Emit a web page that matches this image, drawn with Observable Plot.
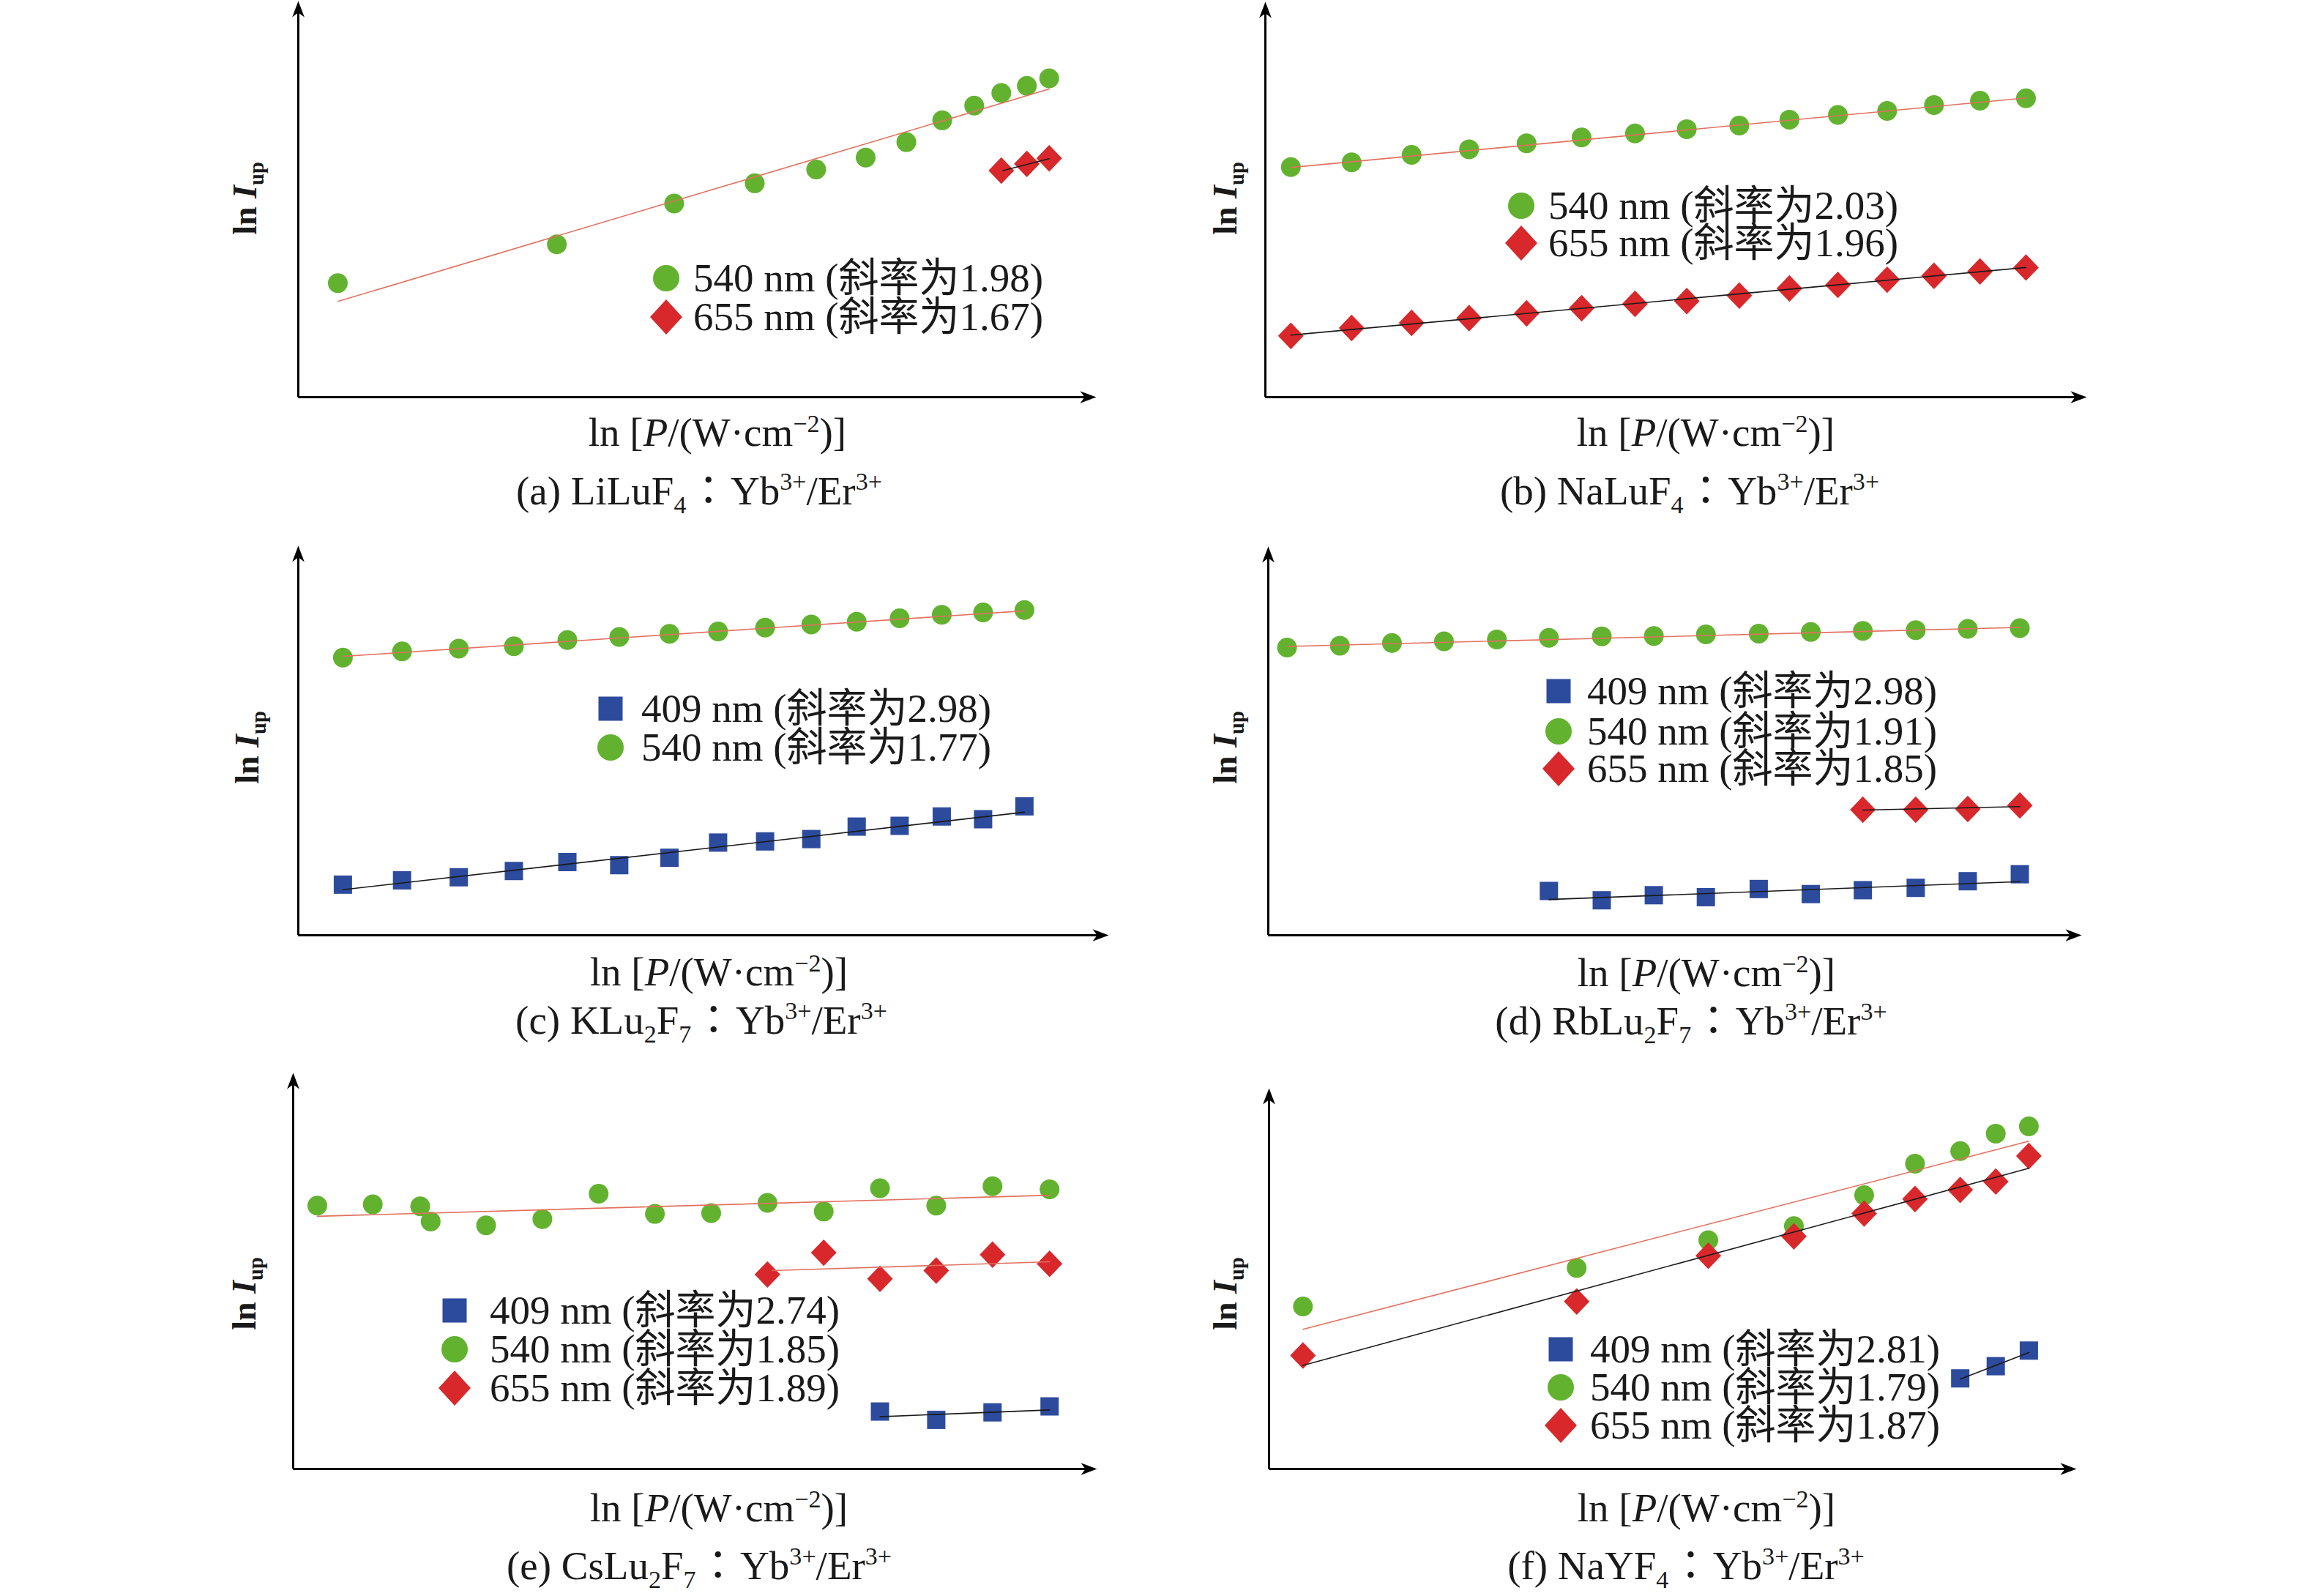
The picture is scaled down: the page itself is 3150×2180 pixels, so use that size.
<!DOCTYPE html>
<html><head><meta charset="utf-8">
<script src="https://cdn.jsdelivr.net/npm/d3@7"></script>
<script src="https://cdn.jsdelivr.net/npm/@observablehq/plot@0.6"></script>
<style>
html,body{margin:0;padding:0;background:#fff;}
#root{position:relative;width:3150px;height:2180px;overflow:hidden;background:#fff;font-family:"Liberation Serif","Noto Sans CJK SC",serif;color:#1a1a1a;}
.panel{position:absolute;}
.lab{position:absolute;white-space:nowrap;line-height:0.9;transform:translate(-50%,-50%);font-size:55px;}
.ylab{position:absolute;white-space:nowrap;line-height:0.9;transform:translate(-50%,-50%) rotate(-90deg);font-size:46px;font-weight:bold;}
.legtxt{position:absolute;white-space:nowrap;line-height:0.85;transform:translateY(-50%);font-size:55px;}
.legsym{position:absolute;}
.colon{font-family:"Noto Sans CJK TC";margin:0 0.05em;}
sub,sup{font-size:0.62em;line-height:0;}
</style></head><body><div id="root"></div>
<script>
// ---------- data (x: % of x-axis length, y: % of y-axis height; arbitrary ln units) ----------
// (a) LiLuF4
const a540x = [4.95, 32.4, 47.1, 57.2, 64.9, 71.1, 76.2, 80.7, 84.7, 88.1, 91.3, 94.1];
const a540y = [28.8, 38.6, 48.9, 54.0, 57.5, 60.5, 64.4, 69.9, 73.6, 76.8, 78.6, 80.5];
const a655x = [88.1, 91.3, 94.1];
const a655y = [57.2, 58.9, 60.3];
const a540fitX = [5.0, 94.1], a540fitY = [24.2, 77.8];
const a655fitX = [88.3, 94.1], a655fitY = [57.2, 60.2];
// (b) NaLuF4
const bX = [3.1, 10.5, 17.8, 24.8, 31.8, 38.5, 45.0, 51.3, 57.7, 63.8, 69.7, 75.7, 81.4, 87.0, 92.6];
const b540y = [58.2, 59.4, 61.3, 62.7, 64.2, 65.7, 66.7, 67.8, 68.7, 70.2, 71.4, 72.4, 73.9, 75.0, 75.6];
const b655y = [15.5, 17.5, 18.8, 20.0, 21.2, 22.5, 23.6, 24.3, 25.7, 27.5, 28.4, 29.7, 30.7, 31.8, 32.8];
const b540fitX = [3.1, 92.6], b540fitY = [58.1, 75.7];
const b655fitX = [3.1, 92.6], b655fitY = [15.7, 32.8];
// (c) KLu2F7
const cX = [5.5, 12.8, 19.8, 26.6, 33.2, 39.6, 45.8, 51.8, 57.6, 63.3, 68.9, 74.2, 79.4, 84.5, 89.6];
const c540y = [71.3, 72.9, 73.6, 74.2, 75.8, 76.6, 77.4, 78.0, 79.0, 79.8, 80.5, 81.4, 82.3, 82.9, 83.5];
const c409y = [13.0, 14.1, 14.9, 16.5, 18.8, 18.0, 19.9, 23.8, 24.1, 24.7, 27.9, 28.1, 30.5, 29.8, 33.1];
const c540fitX = [5.5, 89.6], c540fitY = [71.6, 83.3];
const c409fitX = [5.5, 89.6], c409fitY = [11.7, 31.6];
// (d) RbLu2F7
const dX = [2.3, 8.8, 15.2, 21.6, 28.1, 34.5, 41.0, 47.4, 53.8, 60.3, 66.7, 73.1, 79.6, 86.0, 92.4];
const d540y = [74.0, 74.5, 75.2, 75.6, 76.1, 76.5, 76.9, 77.0, 77.4, 77.6, 78.0, 78.3, 78.5, 78.8, 79.0];
const d655x = [73.1, 79.6, 86.0, 92.4];
const d655y = [32.3, 32.3, 32.5, 33.4];
const d409x = [34.5, 41.0, 47.4, 53.8, 60.3, 66.7, 73.1, 79.6, 86.0, 92.4];
const d409y = [11.4, 9.0, 10.3, 9.8, 11.9, 10.6, 11.6, 12.2, 13.9, 15.7];
const d540fitX = [2.3, 92.4], d540fitY = [74.3, 79.2];
const d655fitX = [73.1, 92.4], d655fitY = [32.2, 33.1];
const d409fitX = [34.5, 92.4], d409fitY = [9.2, 13.8];
// (e) CsLu2F7
const e540x = [3.0, 9.9, 15.8, 17.1, 24.0, 31.0, 38.0, 45.0, 52.0, 59.0, 66.0, 73.0, 80.0, 87.0, 94.1];
const e540y = [66.5, 66.8, 66.3, 62.5, 61.5, 63.1, 69.5, 64.4, 64.6, 67.2, 65.0, 70.9, 66.5, 71.4, 70.6];
const e655x = [59.0, 66.0, 73.0, 80.0, 87.0, 94.1];
const e655y = [49.1, 54.6, 48.0, 50.1, 54.1, 51.8];
const e409x = [73.0, 80.0, 87.0, 94.1];
const e409y = [14.5, 12.4, 14.3, 15.8];
const e540fitX = [3.0, 94.1], e540fitY = [63.8, 69.1];
const e655fitX = [59.6, 94.1], e655fitY = [50.1, 52.3];
const e409fitX = [73.0, 94.1], e409fitY = [13.2, 14.9];
// (f) NaYF4
const fX = [4.2, 38.1, 54.4, 65.0, 73.7, 80.0, 85.6, 90.0, 94.1];
const f540y = [42.7, 52.8, 60.1, 63.8, 71.9, 80.2, 83.5, 88.1, 90.0];
const f655y = [29.8, 44.0, 56.0, 61.1, 67.1, 70.9, 73.3, 75.5, 82.2];
const f409x = [85.6, 90.0, 94.1];
const f409y = [23.8, 27.0, 31.1];
const f540fitX = [4.2, 94.1], f540fitY = [36.7, 86.1];
const f655fitX = [4.2, 94.1], f655fitY = [27.2, 79.0];
const f409fitX = [85.6, 94.1], f409fitY = [23.6, 30.6];

// legend labels (slopes)
const legA = [["540", "1.98"], ["655", "1.67"]];
const legB = [["540", "2.03"], ["655", "1.96"]];
const legC = [["409", "2.98"], ["540", "1.77"]];
const legD = [["409", "2.98"], ["540", "1.91"], ["655", "1.85"]];
const legE = [["409", "2.74"], ["540", "1.85"], ["655", "1.89"]];
const legF = [["409", "2.81"], ["540", "1.79"], ["655", "1.87"]];
const COLON = '<span class="colon">：</span>';
const captions = [
  `(a) LiLuF<sub>4</sub>${COLON}Yb<sup>3+</sup>/Er<sup>3+</sup>`,
  `(b) NaLuF<sub>4</sub>${COLON}Yb<sup>3+</sup>/Er<sup>3+</sup>`,
  `(c) KLu<sub>2</sub>F<sub>7</sub>${COLON}Yb<sup>3+</sup>/Er<sup>3+</sup>`,
  `(d) RbLu<sub>2</sub>F<sub>7</sub>${COLON}Yb<sup>3+</sup>/Er<sup>3+</sup>`,
  `(e) CsLu<sub>2</sub>F<sub>7</sub>${COLON}Yb<sup>3+</sup>/Er<sup>3+</sup>`,
  `(f) NaYF<sub>4</sub>${COLON}Yb<sup>3+</sup>/Er<sup>3+</sup>`
];
const xLabel = "ln [<i>P</i>/(W·cm<sup>−2</sup>)]";
const yLabel = "ln&nbsp;<i>I</i><sub>up</sub>";

// ---------- styles ----------
const COL = {409: "#2d4b9c", 540: "#62b22f", 655: "#d8282b"};
const FITRED = "#e2705e", FITBLACK = "#1a1a1a";
const SYM = {409: "square", 540: "circle", 655: "diamond"};
const RAD = {409: 12.5, 540: 13.5, 655: 14};

function shape(kind) {
  return {draw(ctx, size) {
    const r = Math.sqrt(size / Math.PI);
    if (kind === "diamond") {
      const w = r * 1.25, h = r * 1.3;
      ctx.moveTo(0, -h); ctx.lineTo(w, 0); ctx.lineTo(0, h); ctx.lineTo(-w, 0); ctx.closePath();
    } else if (kind === "square") {
      ctx.rect(-r, -r, 2 * r, 2 * r);
    } else if (kind === "arrowUp") {
      ctx.moveTo(0, 0); ctx.lineTo(r * 0.38, r); ctx.lineTo(0, r * 0.72); ctx.lineTo(-r * 0.38, r); ctx.closePath();
    } else if (kind === "arrowRight") {
      ctx.moveTo(0, 0); ctx.lineTo(-r, r * 0.38); ctx.lineTo(-r * 0.72, 0); ctx.lineTo(-r, -r * 0.38); ctx.closePath();
    } else {
      ctx.arc(0, 0, r, 0, 2 * Math.PI);
    }
  }};
}
const pts = (xs, ys) => xs.map((x, i) => ({x, y: ys[i]}));

// panel geometry (pixel layout): y-axis x, x-axis arrow tip x, x-axis y, y-axis arrow tip y
const panels = [
  {ax: 407, ar: 1497, xy: 542, ty: 1,
   series: [[540, pts(a540x, a540y)], [655, pts(a655x, a655y)]],
   fits: [[FITRED, pts(a540fitX, a540fitY)], [FITBLACK, pts(a655fitX, a655fitY)]],
   leg: legA, legX: 910, legY: [380, 433], legT: 947,
   yl: [335, 271], xl: [980, 591], cap: [955, 668]},
  {ax: 1728, ar: 2850, xy: 542, ty: 2,
   series: [[540, pts(bX, b540y)], [655, pts(bX, b655y)]],
   fits: [[FITRED, pts(b540fitX, b540fitY)], [FITBLACK, pts(b655fitX, b655fitY)]],
   leg: legB, legX: 2078, legY: [281, 332], legT: 2115,
   yl: [1674, 271], xl: [2330, 591], cap: [2308, 668]},
  {ax: 407, ar: 1514, xy: 1277, ty: 745,
   series: [[540, pts(cX, c540y)], [409, pts(cX, c409y)]],
   fits: [[FITRED, pts(c540fitX, c540fitY)], [FITBLACK, pts(c409fitX, c409fitY)]],
   leg: legC, legX: 834, legY: [968, 1021], legT: 876,
   yl: [338, 1021], xl: [982, 1328], cap: [958, 1391]},
  {ax: 1732, ar: 2843, xy: 1277, ty: 746,
   series: [[540, pts(dX, d540y)], [655, pts(d655x, d655y)], [409, pts(d409x, d409y)]],
   fits: [[FITRED, pts(d540fitX, d540fitY)], [FITBLACK, pts(d655fitX, d655fitY)], [FITBLACK, pts(d409fitX, d409fitY)]],
   leg: legD, legX: 2129, legY: [944, 999, 1050], legT: 2168,
   yl: [1674, 1021], xl: [2331, 1329], cap: [2310, 1392]},
  {ax: 400, ar: 1498, xy: 2006, ty: 1465,
   series: [[540, pts(e540x, e540y)], [655, pts(e655x, e655y)], [409, pts(e409x, e409y)]],
   fits: [[FITRED, pts(e540fitX, e540fitY)], [FITRED, pts(e655fitX, e655fitY)], [FITBLACK, pts(e409fitX, e409fitY)]],
   leg: legE, legX: 621, legY: [1790, 1843, 1896], legT: 669,
   yl: [334, 1767], xl: [982, 2060], cap: [955, 2136]},
  {ax: 1733, ar: 2836, xy: 2006, ty: 1486,
   series: [[540, pts(fX, f540y)], [655, pts(fX, f655y)], [409, pts(f409x, f409y)]],
   fits: [[FITRED, pts(f540fitX, f540fitY)], [FITBLACK, pts(f655fitX, f655fitY)], [FITBLACK, pts(f409fitX, f409fitY)]],
   leg: legF, legX: 2132, legY: [1843, 1895, 1947], legT: 2172,
   yl: [1674, 1767], xl: [2331, 2060], cap: [2303, 2136]}
];

const root = document.getElementById("root");
const M = {l: 30, r: 30, t: 10, b: 30};
const XMAX = 100, YMAX = 100;

panels.forEach((p, k) => {
  const W = p.ar - p.ax, H = p.xy - p.ty;
  const marks = [
    Plot.ruleY([0], {x1: 0, x2: XMAX - 1.2, stroke: "#000", strokeWidth: 3}),
    Plot.ruleX([0], {y1: 0, y2: YMAX - 2.5, stroke: "#000", strokeWidth: 3}),
    Plot.dot([{x: XMAX, y: 0}], {x: "x", y: "y", symbol: shape("arrowRight"), r: 22, fill: "#000", stroke: "none"}),
    Plot.dot([{x: 0, y: YMAX}], {x: "x", y: "y", symbol: shape("arrowUp"), r: 22, fill: "#000", stroke: "none"})
  ];
  p.series.forEach(([nm, data]) => {
    marks.push(Plot.dot(data, {x: "x", y: "y", symbol: shape(SYM[nm]), r: RAD[nm], fill: COL[nm], stroke: "none"}));
  });
  p.fits.forEach(([c, data]) => {
    marks.push(Plot.line(data, {x: "x", y: "y", stroke: c, strokeWidth: 1.6}));
  });
  const svg = Plot.plot({
    width: W + M.l + M.r, height: H + M.t + M.b,
    marginLeft: M.l, marginRight: M.r, marginTop: M.t, marginBottom: M.b,
    x: {domain: [0, XMAX], axis: null},
    y: {domain: [0, YMAX], axis: null},
    style: {background: "transparent", overflow: "visible"},
    marks
  });
  svg.classList.add("panel");
  svg.style.left = (p.ax - M.l) + "px";
  svg.style.top = (p.ty - M.t) + "px";
  root.appendChild(svg);

  const add = (cls, html, x, y) => {
    const d = document.createElement("div");
    d.className = cls; d.innerHTML = html;
    d.style.left = x + "px"; d.style.top = y + "px";
    root.appendChild(d);
  };
  add("ylab", yLabel, p.yl[0], p.yl[1]);
  add("lab", xLabel, p.xl[0], p.xl[1]);
  add("lab", captions[k], p.cap[0], p.cap[1]);

  // legend
  p.leg.forEach(([nm, slope], i) => {
    const cy = p.legY[i];
    const s = document.createElementNS("http://www.w3.org/2000/svg", "svg");
    s.setAttribute("width", 60); s.setAttribute("height", 60);
    s.classList.add("legsym");
    s.style.left = (p.legX - 30) + "px"; s.style.top = (cy - 30) + "px";
    let el;
    if (SYM[nm] === "circle") {
      el = document.createElementNS(s.namespaceURI, "circle");
      el.setAttribute("cx", 30); el.setAttribute("cy", 30); el.setAttribute("r", 18);
    } else if (SYM[nm] === "square") {
      el = document.createElementNS(s.namespaceURI, "rect");
      el.setAttribute("x", 13.5); el.setAttribute("y", 13.5); el.setAttribute("width", 33); el.setAttribute("height", 33);
    } else {
      el = document.createElementNS(s.namespaceURI, "path");
      el.setAttribute("d", "M30,6 L52,30 L30,54 L8,30 Z");
    }
    el.setAttribute("fill", COL[nm]);
    s.appendChild(el);
    root.appendChild(s);
    add("legtxt", `${nm} nm (斜率为${slope})`, p.legT, cy);
  });
});
</script>
</body></html>
